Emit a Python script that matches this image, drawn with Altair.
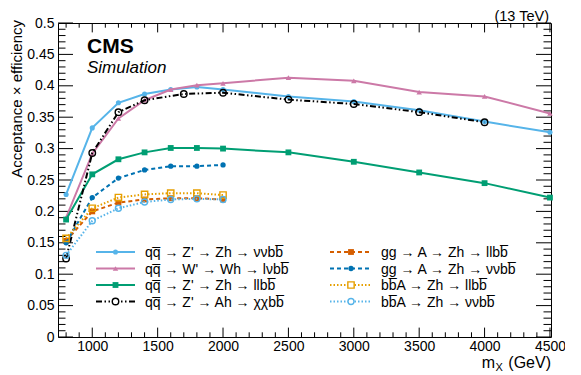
import altair as alt
import pandas as pd

# ---------------- data ----------------
masses_main = [800, 1000, 1200, 1400, 1600, 1800, 2000, 2500, 3000, 3500, 4000, 4500]
zh_nunu = [0.227, 0.333, 0.373, 0.387, 0.394, 0.398, 0.394, 0.383, 0.375, 0.361, 0.343, 0.326]
wh_lnu = [0.190, 0.292, 0.348, 0.377, 0.394, 0.401, 0.404, 0.413, 0.408, 0.390, 0.383, 0.356]
zh_ll = [0.187, 0.259, 0.283, 0.294, 0.301, 0.301, 0.300, 0.294, 0.279, 0.262, 0.245, 0.222]

masses_ah = [800, 1000, 1200, 1400, 1700, 2000, 2500, 3000, 3500, 4000]
ah_chichi = [0.125, 0.293, 0.358, 0.377, 0.387, 0.389, 0.378, 0.371, 0.358, 0.342]

masses_a = [800, 1000, 1200, 1400, 1600, 1800, 2000]
gg_ll = [0.153, 0.200, 0.214, 0.219, 0.221, 0.221, 0.219]
gg_nunu = [0.150, 0.222, 0.253, 0.266, 0.272, 0.272, 0.274]
bb_ll = [0.157, 0.205, 0.222, 0.227, 0.229, 0.229, 0.226]
bb_nunu = [0.130, 0.185, 0.205, 0.215, 0.219, 0.220, 0.219]

labels = [
    "qq\u0305 \u2192 Z' \u2192 Zh \u2192 \u03bd\u03bdbb\u0305",
    "qq\u0305 \u2192 W' \u2192 Wh \u2192 l\u03bdbb\u0305",
    "qq\u0305 \u2192 Z' \u2192 Zh \u2192 llbb\u0305",
    "qq\u0305 \u2192 Z' \u2192 Ah \u2192 \u03c7\u03c7bb\u0305",
    "gg \u2192 A \u2192 Zh \u2192 llbb\u0305",
    "gg \u2192 A \u2192 Zh \u2192 \u03bd\u03bdbb\u0305",
    "bb\u0305A \u2192 Zh \u2192 llbb\u0305",
    "bb\u0305A \u2192 Zh \u2192 \u03bd\u03bdbb\u0305",
]

x_major = [1000, 1500, 2000, 2500, 3000, 3500, 4000, 4500]
y_major = [0, 0.05, 0.1, 0.15, 0.2, 0.25, 0.3, 0.35, 0.4, 0.45, 0.5]

# ---------------- styling ----------------
FONT = "Liberation Sans"
W, H = 493, 314
xs = alt.Scale(domain=[738, 4508], nice=False, zero=False)
ys = alt.Scale(domain=[0, 0.5], nice=False, zero=False)
xaxis = alt.Axis(values=x_major, ticks=False, domain=False, grid=False, title=None,
                 labelFont=FONT, labelFontSize=14, labelColor="black", labelPadding=2,
                 labelFlush=False, format="d")
yaxis = alt.Axis(values=y_major, ticks=False, domain=False, grid=False, title=None,
                 labelFont=FONT, labelFontSize=14, labelColor="black", labelPadding=4,
                 format="~g", labelFlush=False)


def X(f):
    return alt.X(f, type="quantitative", scale=xs, axis=xaxis)


def Y(f):
    return alt.Y(f, type="quantitative", scale=ys, axis=yaxis)


series = [
    # masses, values, color, dash, shape, filled, size
    (masses_main, zh_nunu, "#56B4E9", None, "circle", True, 26),
    (masses_main, wh_lnu, "#CC79A7", None, "triangle-up", True, 30),
    (masses_main, zh_ll, "#009E73", None, "square", True, 34),
    (masses_ah, ah_chichi, "black", [6, 2.5, 1.5, 2.5, 1.5, 2.5], "circle", False, 42),
    (masses_a, gg_ll, "#D55E00", [4, 3], "square", True, 34),
    (masses_a, gg_nunu, "#0072B2", [4, 3], "circle", True, 28),
    (masses_a, bb_ll, "#E69F00", [1.5, 2], "square", False, 40),
    (masses_a, bb_nunu, "#56B4E9", [1.5, 2], "circle", False, 36),
]

layers = []

# ticks (inside the frame, on all four sides)
x_minor = [m for m in range(800, 4501, 100) if m % 500 != 0]
y_minor = [round(i * 0.01, 2) for i in range(1, 50) if i % 5 != 0]
dfxM = pd.DataFrame({"t": x_major})
dfxm = pd.DataFrame({"t": x_minor})
dfyM = pd.DataFrame({"t": y_major})
dfym = pd.DataFrame({"t": y_minor})
tick = dict(color="black", strokeWidth=1)
for d, ln in [(dfxM, 9.4), (dfxm, 4.7)]:
    layers.append(alt.Chart(d).mark_rule(**tick).encode(x=X("t"), y=alt.value(H), y2=alt.value(H - ln)))
    layers.append(alt.Chart(d).mark_rule(**tick).encode(x=X("t"), y=alt.value(0), y2=alt.value(ln)))
for d, ln in [(dfyM, 15), (dfym, 7.5)]:
    layers.append(alt.Chart(d).mark_rule(**tick).encode(y=Y("t"), x=alt.value(0), x2=alt.value(ln)))
    layers.append(alt.Chart(d).mark_rule(**tick).encode(y=Y("t"), x=alt.value(W), x2=alt.value(W - ln)))

# data series
for ms, vs, col, dash, shape, filled, size in series:
    d = pd.DataFrame({"m": ms, "v": vs})
    lkw = dict(color=col, strokeWidth=2)
    if dash:
        lkw["strokeDash"] = dash
    layers.append(alt.Chart(d).mark_line(**lkw).encode(x=X("m"), y=Y("v")))
    pkw = dict(shape=shape, size=size, color=col, opacity=1)
    if filled:
        pkw.update(filled=True)
    else:
        pkw.update(filled=False, strokeWidth=1.4)
    layers.append(alt.Chart(d).mark_point(**pkw).encode(x=X("m"), y=Y("v")))

# legend (two columns)
rows_y = [229, 245.5, 262, 278.5]
cols = [(38, 77, 87), (272, 314, 323)]
for i, (ms, vs, col, dash, shape, filled, size) in enumerate(series):
    x0, x1, tx = cols[i // 4]
    yy = rows_y[i % 4]
    one = pd.DataFrame({"label": [labels[i]]})
    lkw = dict(color=col, strokeWidth=2)
    if dash:
        lkw["strokeDash"] = dash
    layers.append(alt.Chart(one).mark_rule(**lkw).encode(
        x=alt.value(x0), x2=alt.value(x1), y=alt.value(yy)))
    pkw = dict(shape=shape, size=size, color=col, opacity=1)
    if filled:
        pkw.update(filled=True)
    else:
        pkw.update(filled=False, strokeWidth=1.4, fill="white", fillOpacity=1)
    layers.append(alt.Chart(one).mark_point(**pkw).encode(
        x=alt.value((x0 + x1) / 2), y=alt.value(yy)))
    layers.append(alt.Chart(one).mark_text(
        font=FONT, fontSize=14, align="left", baseline="middle", color="black").encode(
        x=alt.value(tx), y=alt.value(yy + 1), text="label:N"))


def txt(s, x, y, **kw):
    d = pd.DataFrame({"s": [s]})
    return alt.Chart(d).mark_text(font=FONT, color="black", **kw).encode(
        x=alt.value(x), y=alt.value(y), text="s:N")


layers.append(txt("CMS", 29, 30, fontSize=21, fontWeight="bold", align="left", baseline="alphabetic"))
layers.append(txt("Simulation", 29, 50, fontSize=17, fontStyle="italic", align="left", baseline="alphabetic"))
layers.append(txt("(13 TeV)", 491, -2, fontSize=14.5, align="right", baseline="alphabetic"))
layers.append(txt("Acceptance \u00d7 efficiency", -36, -3, fontSize=15, angle=270,
                  align="right", baseline="alphabetic"))
layers.append(txt("m", 437, 345, fontSize=16, align="right", baseline="alphabetic"))
layers.append(txt("X", 437.5, 348, fontSize=11, align="left", baseline="alphabetic"))
layers.append(txt("(GeV)", 493, 345, fontSize=16, align="right", baseline="alphabetic"))

chart = alt.layer(*layers).properties(
    width=W, height=H,
    padding={"left": 50, "top": 15, "right": 14, "bottom": 38},
    autosize=alt.AutoSizeParams(type="none"),
    background="white",
).configure_view(stroke="black", strokeWidth=1)

chart.save("out.html", embed_options={"renderer": "svg", "actions": False})
